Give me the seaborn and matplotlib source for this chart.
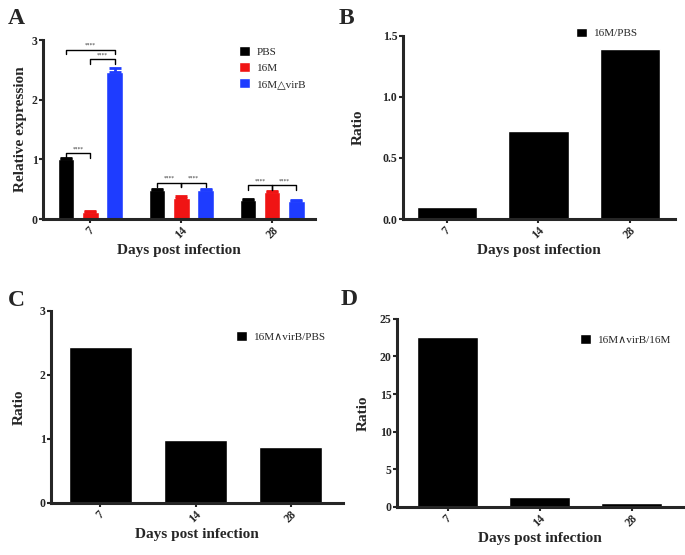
import numpy as np
import pandas as pd
import matplotlib
matplotlib.use("Agg")
import matplotlib.pyplot as plt
import seaborn as sns

sns.set_style("ticks")
plt.rcParams['font.family'] = ['Liberation Serif', 'DejaVu Serif']
plt.rcParams['axes.linewidth'] = 2.2

# panel A: relative expression
days = ['7', '14', '28']
groups = ['PBS', '16M', '16M\u25b3virB']
pbs_vals = [1.00, 0.49, 0.32]
m16_vals = [0.12, 0.36, 0.45]
virb_vals = [2.46, 0.49, 0.295]
pbs_err = [0.02, 0.02, 0.01]
m16_err = [0.01, 0.02, 0.02]
virb_err = [0.07, 0.02, 0.02]

# significance brackets: day index, group a, group b, height
sig_day = [0, 0, 0, 1, 1, 2, 2]
sig_a = [0, 1, 0, 0, 1, 0, 1]
sig_b = [2, 2, 1, 1, 2, 1, 2]
sig_h = [2.84, 2.68, 1.10, 0.61, 0.61, 0.57, 0.57]

# ratio panels
ratio_b = [0.10, 0.72, 1.39]
ratio_c = [2.43, 0.99, 0.875]
ratio_d = [22.6, 1.28, 0.53]
label_b = '16M/PBS'
label_c = '16M\u2227virB/PBS'
label_d = '16M\u2227virB/16M'

palette = ['#000000', '#f01414', '#1e3cff']

dfA = pd.DataFrame({
    'day': days * 3,
    'group': [groups[0]] * 3 + [groups[1]] * 3 + [groups[2]] * 3,
    'value': pbs_vals + m16_vals + virb_vals,
    'err': pbs_err + m16_err + virb_err,
})

fig = plt.figure(figsize=(6.85, 5.55), dpi=100)
axA = fig.add_axes([0.0628, 0.6054, 0.397, 0.3225])
axB = fig.add_axes([0.588, 0.6054, 0.397, 0.330])
axC = fig.add_axes([0.0745, 0.0937, 0.426, 0.346])
axD = fig.add_axes([0.5796, 0.0865, 0.4175, 0.339])


def style_axis(ax, ylab, ylim, yticks, yfmt, xlim, lpad):
    sns.despine(ax=ax)
    ax.set_xlim(*xlim)
    ax.set_ylim(*ylim)
    ax.set_yticks(yticks)
    ax.set_yticklabels([yfmt.format(t) for t in yticks], fontweight='bold', fontsize=8.5)
    ax.set_xticks(range(len(days)))
    ax.set_xticklabels(days, rotation=45, ha='center', fontweight='bold', fontsize=8.5)
    ax.tick_params(axis='both', length=3, width=1.5, pad=1)
    ax.set_xlabel('Days post infection', fontweight='bold', fontsize=11, labelpad=2)
    ax.set_ylabel(ylab, fontweight='bold', fontsize=11, labelpad=lpad)
    ax.spines['left'].set_bounds(0, ylim[1])


# ---- A ----
sns.barplot(data=dfA, x='day', y='value', hue='group', palette=palette,
            order=days, hue_order=groups, width=0.8, gap=0.32,
            errorbar=None, saturation=1, ax=axA)
bar_sets = list(axA.containers)
for i, cont in enumerate(bar_sets):
    errs = dfA[dfA['group'] == groups[i]]['err'].values
    for j, bar in enumerate(cont):
        cx = bar.get_x() + bar.get_width() / 2
        axA.errorbar(cx, bar.get_height(), yerr=[[0], [errs[j]]], color=palette[i],
                     capsize=4, capthick=2, elinewidth=2)

for d, a, b, h in zip(sig_day, sig_a, sig_b, sig_h):
    ba = bar_sets[a][d]
    bb = bar_sets[b][d]
    xa = ba.get_x() + ba.get_width() / 2
    xb = bb.get_x() + bb.get_width() / 2
    axA.plot([xa, xa, xb, xb], [h - 0.08, h, h, h - 0.08], color='black', lw=1)
    axA.text((xa + xb) / 2, h + 0.03, '****', ha='center', va='bottom', fontsize=4, color='#333333')

style_axis(axA, 'Relative expression', (0, 3), [0, 1, 2, 3], '{:d}', (-0.52, 2.47), 3.5)
handles, labels = axA.get_legend_handles_labels()
axA.legend(handles, labels, loc='upper left', bbox_to_anchor=(0.685, 1.02), frameon=False,
           handlelength=1.0, handleheight=1.0, handletextpad=0.6, labelspacing=0.45, fontsize=8)

# ---- B, C, D ----
for ax, vals, lab, ylim, yticks, yfmt, xlim, anchor, lpad in [
        (axB, ratio_b, label_b, (0, 1.5), [0.0, 0.5, 1.0, 1.5], '{:.1f}', (-0.48, 2.49), (0.60, 1.10), 13),
        (axC, ratio_c, label_c, (0, 3), [0, 1, 2, 3], '{:d}', (-0.52, 2.55), (0.60, 0.946), 10),
        (axD, ratio_d, label_d, (0, 25), [0, 5, 10, 15, 20, 25], '{:d}', (-0.55, 2.56), (0.606, 0.97), 7)]:
    sns.barplot(x=days, y=vals, color='black', width=0.66, saturation=1,
                label=lab, ax=ax)
    style_axis(ax, 'Ratio', ylim, yticks, yfmt, xlim, lpad)
    ax.legend(loc='upper left', bbox_to_anchor=anchor, frameon=False,
              handlelength=1.0, handleheight=1.0, handletextpad=0.6, fontsize=8)

for txt, x, y in [('A', 0.012, 0.985), ('B', 0.494, 0.985), ('C', 0.012, 0.477), ('D', 0.497, 0.479)]:
    fig.text(x, y, txt, fontsize=17, fontweight='bold', va='top', ha='left')

fig.savefig('out.png', dpi=100)
